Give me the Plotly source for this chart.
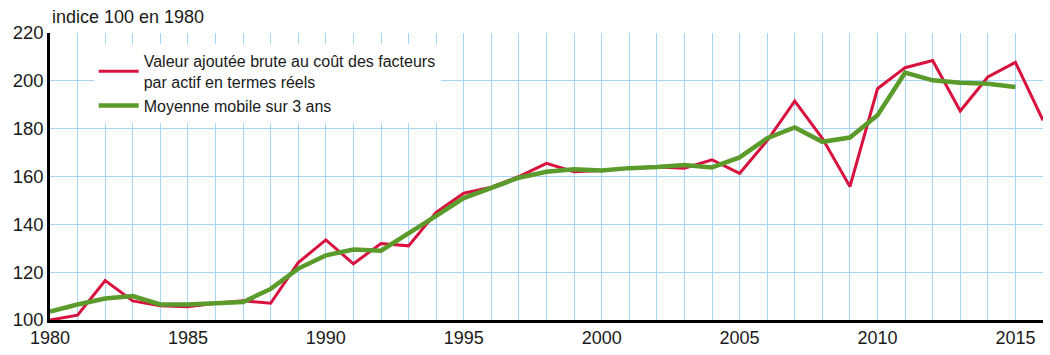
import plotly.graph_objects as go

years = list(range(1980, 2017))
valeur = [100, 102, 116.5, 108, 106, 105.5, 107, 108, 107, 124,
          133.5, 123.5, 132, 131, 145, 153, 155.5, 160, 165.5, 162,
          162.5, 163.5, 164, 163.5, 167, 161.3, 175, 191.5, 176, 155.8,
          196.7, 205.5, 208.5, 187.4, 201.6, 207.7, 183.5]
years_mm = list(range(1980, 2016))
moyenne = [103.5, 106.5, 109, 110, 106.5, 106.5, 107, 107.5, 113, 121.5,
           127, 129.5, 129, 136, 143.5, 151, 155.5, 159.5, 162, 163,
           162.5, 163.5, 164, 164.8, 163.8, 168, 176, 180.5, 174.5, 176.3,
           185.6, 203.4, 200.2, 199.2, 198.8, 197.4]

label_valeur = "Valeur ajoutée brute au coût des facteurs<br>par actif en termes réels"
label_moyenne = "Moyenne mobile sur 3 ans"

FONT = "Liberation Sans, Arial, sans-serif"
GRID = "#a6d5f5"

fig = go.Figure()
fig.add_trace(go.Scatter(x=years, y=valeur, mode="lines", name=label_valeur,
                         line=dict(color="#d8123e", width=3)))
fig.add_trace(go.Scatter(x=years_mm, y=moyenne, mode="lines", name=label_moyenne,
                         line=dict(color="#5b9b2b", width=4.5)))

fig.update_layout(
    width=1050, height=355,
    margin=dict(l=50, r=7, t=33, b=35),
    paper_bgcolor="white", plot_bgcolor="white",
    font=dict(family=FONT, size=18, color="#1a1a1a"),
    showlegend=True,
    legend=dict(x=0.044, y=0.962, xanchor="left", yanchor="top",
                bgcolor="white", font=dict(size=16, family=FONT),
                tracegroupgap=6, itemwidth=40),
    xaxis=dict(range=[1980, 2016], tickmode="linear", tick0=1980, dtick=5,
               showgrid=True, gridcolor=GRID, gridwidth=1,
               minor=dict(dtick=1, showgrid=True, gridcolor=GRID, gridwidth=1),
               showline=True, linecolor="black", linewidth=2.5,
               ticks="", zeroline=False, tickfont=dict(size=18)),
    yaxis=dict(range=[100, 220], tickmode="linear", tick0=100, dtick=20,
               showgrid=True, gridcolor=GRID, gridwidth=1,
               showline=True, linecolor="black", linewidth=2.5,
               ticks="", zeroline=False, tickfont=dict(size=18.5)),
)
fig.add_annotation(text="indice 100 en 1980", xref="paper", yref="paper",
                   x=0, y=1, yshift=4, xanchor="left", yanchor="bottom",
                   showarrow=False, font=dict(size=18, family=FONT))

fig.write_html("out.html")
